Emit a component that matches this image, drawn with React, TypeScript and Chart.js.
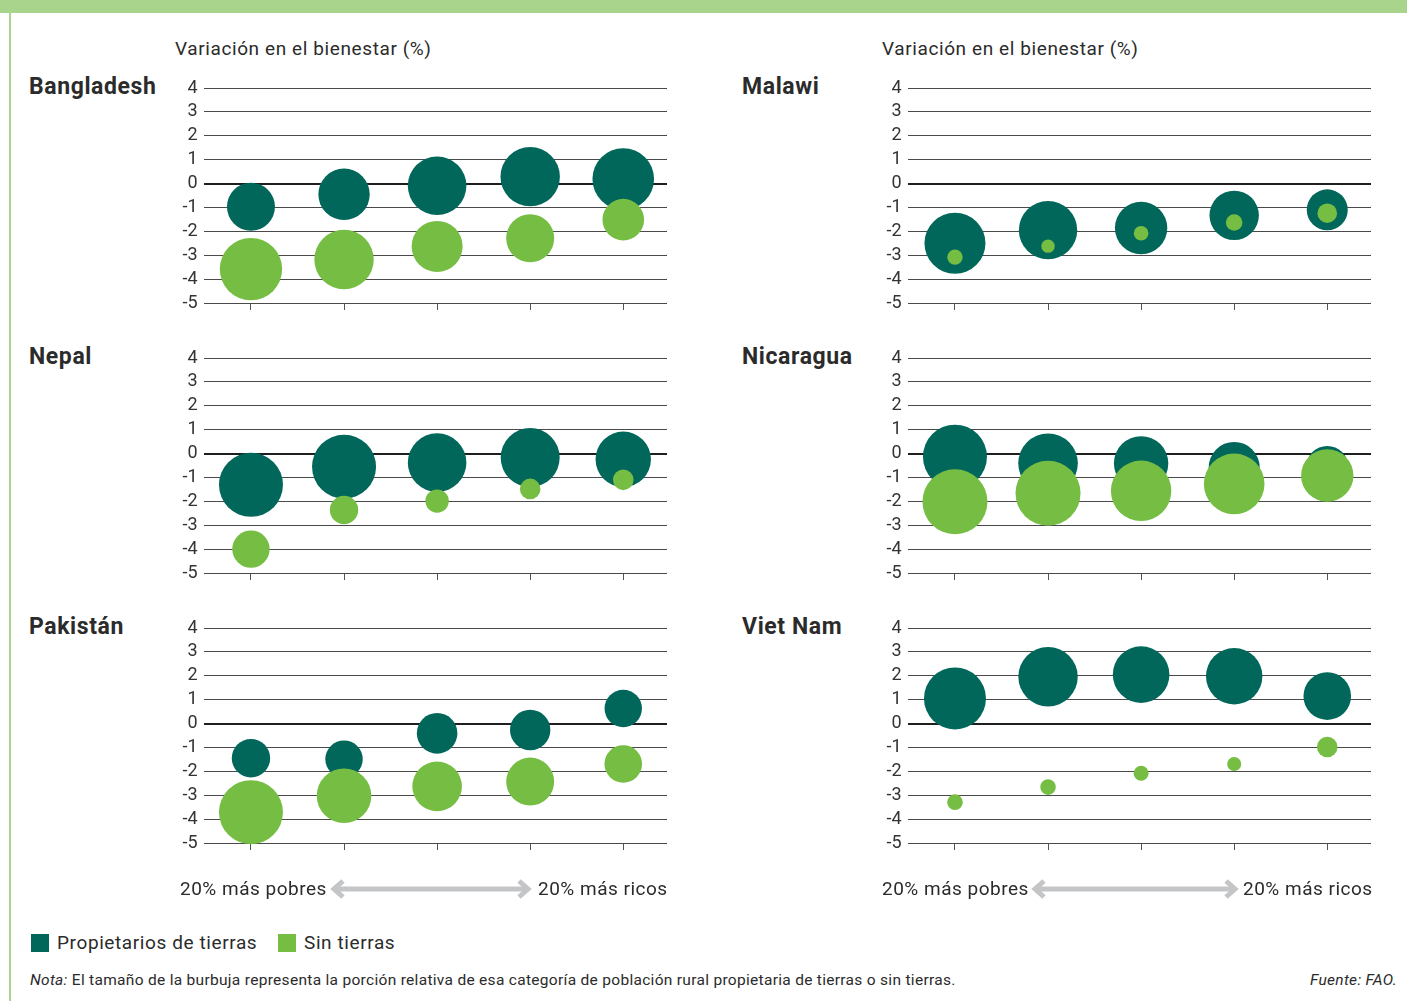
import React, { useEffect, useRef } from "react";
import { Chart, registerables } from "chart.js";

Chart.register(...registerables);

// ---------- DATA ----------
const quintiles = [1, 2, 3, 4, 5];
const yTicks = [4, 3, 2, 1, 0, -1, -2, -3, -4, -5];

const seriesNames = ["Propietarios de tierras", "Sin tierras"];

const bangladeshOwnersY = [-0.97, -0.45, -0.09, 0.29, 0.19];
const bangladeshOwnersR = [24, 25.7, 29.3, 29.7, 30.8];
const bangladeshLandlessY = [-3.58, -3.18, -2.63, -2.29, -1.51];
const bangladeshLandlessR = [31.2, 29.7, 25.5, 24, 20.8];

const malawiOwnersY = [-2.5, -1.95, -1.86, -1.33, -1.1];
const malawiOwnersR = [30.5, 29.2, 26.2, 24.7, 20.5];
const malawiLandlessY = [-3.08, -2.62, -2.08, -1.63, -1.24];
const malawiLandlessR = [7.7, 6.7, 7.3, 8.3, 9.8];

const nepalOwnersY = [-1.31, -0.55, -0.38, -0.17, -0.24];
const nepalOwnersR = [32, 32, 29.3, 29.5, 27.7];
const nepalLandlessY = [-4.0, -2.36, -1.99, -1.48, -1.1];
const nepalLandlessR = [18.7, 14.2, 11.7, 10.3, 10.3];

const nicaraguaOwnersY = [-0.13, -0.41, -0.41, -0.58, -0.56];
const nicaraguaOwnersR = [32, 29.8, 27.2, 25.5, 21];
const nicaraguaLandlessY = [-2.02, -1.66, -1.56, -1.27, -0.92];
const nicaraguaLandlessR = [32.5, 32.5, 30.2, 30.3, 26.2];

const pakistanOwnersY = [-1.45, -1.49, -0.41, -0.27, 0.63];
const pakistanOwnersR = [19.2, 18.7, 20.3, 20.2, 18.7];
const pakistanLandlessY = [-3.71, -3.02, -2.63, -2.43, -1.69];
const pakistanLandlessR = [32, 27.3, 24.8, 24, 18.8];

const vietnamOwnersY = [1.05, 1.96, 2.05, 1.98, 1.15];
const vietnamOwnersR = [31, 29.7, 28.3, 28.2, 23.8];
const vietnamLandlessY = [-3.29, -2.66, -2.08, -1.69, -0.98];
const vietnamLandlessR = [7.8, 7.8, 7.5, 7, 10.3];

const panels = [
  { name: "Bangladesh", ownersY: bangladeshOwnersY, ownersR: bangladeshOwnersR, landlessY: bangladeshLandlessY, landlessR: bangladeshLandlessR },
  { name: "Malawi", ownersY: malawiOwnersY, ownersR: malawiOwnersR, landlessY: malawiLandlessY, landlessR: malawiLandlessR },
  { name: "Nepal", ownersY: nepalOwnersY, ownersR: nepalOwnersR, landlessY: nepalLandlessY, landlessR: nepalLandlessR },
  { name: "Nicaragua", ownersY: nicaraguaOwnersY, ownersR: nicaraguaOwnersR, landlessY: nicaraguaLandlessY, landlessR: nicaraguaLandlessR },
  { name: "Pakistán", ownersY: pakistanOwnersY, ownersR: pakistanOwnersR, landlessY: pakistanLandlessY, landlessR: pakistanLandlessR },
  { name: "Viet Nam", ownersY: vietnamOwnersY, ownersR: vietnamOwnersR, landlessY: vietnamLandlessY, landlessR: vietnamLandlessR },
];

const yAxisTitle = "Variación en el bienestar (%)";
const poorLabel = "20% más pobres";
const richLabel = "20% más ricos";

// ---------- STYLE ----------
const DARK = "#02675b";
const LIGHT = "#75be43";
const FONT = "Roboto, 'Open Sans', sans-serif";
const TEXT = "#2b2b2b";

// canvas geometry (padding kept larger than the largest bubble radius)
const PAD_L = 10;
const AXIS_W = 33.5;
const PLOT_W = 463.5;
const PAD_R = 40;
const PAD_T = 40;
const PLOT_H = 215;
const TICK_LEN = 7;
const PAD_B = 33;
const CANVAS_W = PAD_L + AXIS_W + PLOT_W + PAD_R;
const CANVAS_H = PAD_T + PLOT_H + TICK_LEN + PAD_B;

type PanelProps = {
  ownersY: number[];
  ownersR: number[];
  landlessY: number[];
  landlessR: number[];
};

function BubblePanel(props: PanelProps) {
  const ref = useRef<HTMLCanvasElement | null>(null);
  useEffect(() => {
    if (!ref.current) return;
    const chart = new Chart(ref.current, {
      type: "bubble",
      data: {
        datasets: [
          {
            label: seriesNames[1],
            data: quintiles.map((q, i) => ({ x: q, y: props.landlessY[i], r: props.landlessR[i] })),
            backgroundColor: LIGHT,
            borderWidth: 0,
            order: 0,
            clip: false as any,
          },
          {
            label: seriesNames[0],
            data: quintiles.map((q, i) => ({ x: q, y: props.ownersY[i], r: props.ownersR[i] })),
            backgroundColor: DARK,
            borderWidth: 0,
            order: 1,
            clip: false as any,
          },
        ],
      },
      options: {
        animation: false,
        responsive: false,
        maintainAspectRatio: false,
        events: [],
        layout: { padding: { top: PAD_T, bottom: PAD_B, left: PAD_L, right: PAD_R } },
        plugins: { legend: { display: false }, tooltip: { enabled: false } },
        scales: {
          x: {
            type: "linear",
            min: 0.49,
            max: 5.47,
            afterBuildTicks: (scale: any) => {
              scale.ticks = quintiles.map((v) => ({ value: v }));
            },
            afterFit: (scale: any) => {
              scale.height = TICK_LEN;
              scale.paddingLeft = 0;
              scale.paddingRight = 0;
              scale.paddingTop = 0;
              scale.paddingBottom = 0;
            },
            ticks: { display: false },
            grid: {
              drawOnChartArea: false,
              drawTicks: true,
              tickLength: TICK_LEN,
              color: "#555555",
              lineWidth: 1,
            },
            border: { display: false },
          },
          y: {
            type: "linear",
            min: -5,
            max: 4,
            afterBuildTicks: (scale: any) => {
              scale.ticks = yTicks.map((v) => ({ value: v }));
            },
            afterFit: (scale: any) => {
              scale.width = AXIS_W;
              scale.paddingTop = 0;
              scale.paddingBottom = 0;
              scale.paddingLeft = 0;
              scale.paddingRight = 0;
            },
            ticks: {
              autoSkip: false,
              padding: 6,
              color: "#333333",
              font: { family: FONT, size: 18 },
              callback: (v: any) => String(v),
            },
            grid: {
              drawTicks: false,
              color: (ctx: any) => (ctx.tick && ctx.tick.value === 0 ? "#1f1f1f" : "#4a4a4a"),
              lineWidth: (ctx: any) => (ctx.tick && ctx.tick.value === 0 ? 2 : 1),
            },
            border: { display: false },
          },
        },
      },
    } as any);
    return () => chart.destroy();
  }, []);
  return (
    <canvas
      ref={ref}
      width={CANVAS_W}
      height={CANVAS_H}
      style={{ width: CANVAS_W, height: CANVAS_H, display: "block" }}
    />
  );
}

function Arrow({ left, width, top }: { left: number; width: number; top: number }) {
  const h = 20;
  const m = h / 2;
  return (
    <svg width={width} height={h} style={{ position: "absolute", left, top: top - m }}>
      <line x1={6} y1={m} x2={width - 6} y2={m} stroke="#c4c5c7" strokeWidth={5} />
      <polyline points={`13,2 4,${m} 13,${h - 2}`} fill="none" stroke="#c4c5c7" strokeWidth={5} strokeLinejoin="miter" />
      <polyline points={`${width - 13},2 ${width - 4},${m} ${width - 13},${h - 2}`} fill="none" stroke="#c4c5c7" strokeWidth={5} strokeLinejoin="miter" />
    </svg>
  );
}

function Text({ left, top, size, children, bold, italic, right, ls }: any) {
  const lh = size * 1.3;
  const style: any = {
    position: "absolute",
    top: top - lh / 2,
    fontFamily: FONT,
    fontSize: size,
    lineHeight: `${lh}px`,
    fontWeight: bold ? 700 : 400,
    fontStyle: italic ? "italic" : "normal",
    color: TEXT,
    whiteSpace: "nowrap",
    letterSpacing: ls ? `${ls}px` : "normal",
  };
  if (right !== undefined) style.right = right;
  else style.left = left;
  return <div style={style}>{children}</div>;
}

export default function App() {
  const colLeft = [170, 874];
  const nameLeft = [29, 742];
  const rowTop = [88, 358, 628];
  return (
    <div
      style={{
        position: "absolute",
        left: 0,
        top: 0,
        width: 1407,
        height: 1001,
        background: "#ffffff",
        overflow: "hidden",
      }}
    >
      {/* top band and left rule */}
      <div style={{ position: "absolute", left: 0, top: 0, width: 1407, height: 13, background: "#a8d48b" }} />
      <div style={{ position: "absolute", left: 9, top: 13, width: 2, height: 988, background: "#a8d48b" }} />

      {/* axis titles */}
      <Text left={175} top={49} size={19} ls={0.6}>{yAxisTitle}</Text>
      <Text left={882} top={49} size={19} ls={0.6}>{yAxisTitle}</Text>

      {panels.map((p, i) => {
        const col = i % 2;
        const row = Math.floor(i / 2);
        return (
          <React.Fragment key={p.name}>
            <div style={{ position: "absolute", left: colLeft[col] - PAD_L, top: rowTop[row] - PAD_T }}>
              <BubblePanel ownersY={p.ownersY} ownersR={p.ownersR} landlessY={p.landlessY} landlessR={p.landlessR} />
            </div>
            <Text left={nameLeft[col]} top={rowTop[row] - 1} size={23} bold ls={0.6}>
              {p.name}
            </Text>
          </React.Fragment>
        );
      })}

      {/* x direction labels */}
      <Text left={180} top={889} size={19} ls={0.5}>{poorLabel}</Text>
      <Arrow left={330} width={202} top={889} />
      <Text left={538} top={889} size={19} ls={0.5}>{richLabel}</Text>

      <Text left={882} top={889} size={19} ls={0.5}>{poorLabel}</Text>
      <Arrow left={1031} width={208} top={889} />
      <Text left={1243} top={889} size={19} ls={0.5}>{richLabel}</Text>

      {/* legend */}
      <div style={{ position: "absolute", left: 31, top: 934, width: 18, height: 18, background: DARK }} />
      <Text left={57} top={943} size={19} ls={0.6}>{seriesNames[0]}</Text>
      <div style={{ position: "absolute", left: 278, top: 934, width: 18, height: 18, background: LIGHT }} />
      <Text left={304} top={943} size={19} ls={0.6}>{seriesNames[1]}</Text>

      {/* note and source */}
      <Text left={30} top={980} size={15.5} ls={0.3}>
        <i>Nota:</i> El tamaño de la burbuja representa la porción relativa de esa categoría de población rural propietaria de tierras o sin tierras.
      </Text>
      <Text right={10} top={980} size={15.5} italic ls={0.3}>
        Fuente: FAO.
      </Text>
    </div>
  );
}
